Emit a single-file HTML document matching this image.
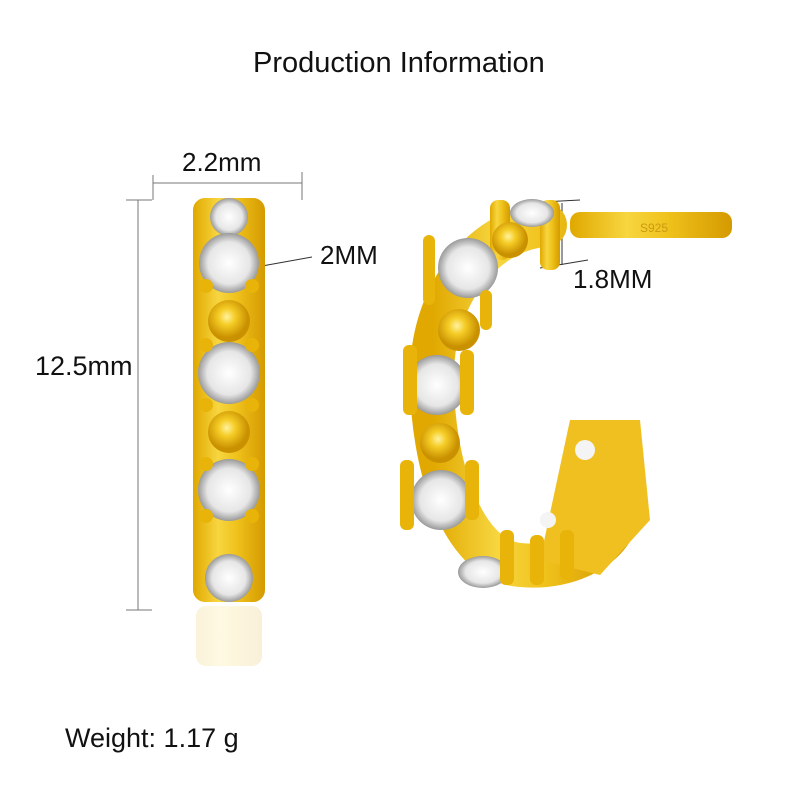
<!DOCTYPE html>
<html><head><style>
html,body{margin:0;padding:0;background:#fff;}
body{width:800px;height:800px;position:relative;overflow:hidden;font-family:"Liberation Sans",sans-serif;color:#111;}
.t{position:absolute;white-space:nowrap;}
</style></head><body>
<svg width="800" height="800" style="position:absolute;left:0;top:0">
<defs>
<linearGradient id="g" x1="0" x2="1" y1="0" y2="0">
<stop offset="0" stop-color="#e0a800"/><stop offset="0.35" stop-color="#f7d640"/><stop offset="0.6" stop-color="#f0c21c"/><stop offset="1" stop-color="#d49a00"/>
</linearGradient>
<radialGradient id="s"><stop offset="0" stop-color="#ffffff"/><stop offset="0.7" stop-color="#e6e6e6"/><stop offset="1" stop-color="#9a9a9a"/></radialGradient>
<radialGradient id="b" cx="0.45" cy="0.4"><stop offset="0" stop-color="#fff2a0"/><stop offset="0.4" stop-color="#f5cc25"/><stop offset="1" stop-color="#c99000"/></radialGradient>
</defs>
<g stroke="#777" stroke-width="1" fill="none">
<line x1="153" y1="183" x2="302" y2="183"/>
<line x1="153" y1="175" x2="153" y2="200"/>
<line x1="302" y1="172" x2="302" y2="200"/>
<line x1="138" y1="200" x2="138" y2="610"/>
<line x1="126" y1="200" x2="152" y2="200"/>
<line x1="126" y1="610" x2="152" y2="610"/>
<line x1="262" y1="266" x2="312" y2="257" stroke="#333"/>
<line x1="540" y1="268" x2="588" y2="260" stroke="#333"/>
<line x1="562" y1="203" x2="562" y2="265" stroke="#333"/>
<line x1="542" y1="202" x2="580" y2="200" stroke="#333"/>
</g>
<rect x="193" y="198" width="72" height="404" rx="12" fill="url(#g)"/>
<rect x="196" y="606" width="66" height="60" rx="10" fill="url(#g)" opacity="0.15"/>
<g fill="url(#s)">
<circle cx="229" cy="217" r="19"/><circle cx="229" cy="263" r="30"/>
<circle cx="229" cy="373" r="31"/><circle cx="229" cy="490" r="31"/>
<circle cx="229" cy="578" r="24"/>
</g>
<g fill="url(#b)">
<circle cx="229" cy="321" r="21"/><circle cx="229" cy="432" r="21"/>
</g>
<g fill="#e8b40a">
<circle cx="206" cy="345" r="7"/><circle cx="252" cy="345" r="7"/>
<circle cx="206" cy="405" r="7"/><circle cx="252" cy="405" r="7"/>
<circle cx="206" cy="464" r="7"/><circle cx="252" cy="464" r="7"/>
<circle cx="206" cy="516" r="7"/><circle cx="252" cy="516" r="7"/>
<circle cx="206" cy="286" r="7"/><circle cx="252" cy="286" r="7"/>
</g>
<rect x="570" y="212" width="162" height="26" rx="10" fill="url(#g)"/>
<text x="640" y="232" font-size="12" fill="#c99a10" font-family="Liberation Sans">S925</text>
<path d="M545 225 C480 230 430 300 432 380 C432 460 460 560 520 565 C570 570 620 545 620 500" stroke="url(#g)" stroke-width="44" fill="none" stroke-linecap="round"/>
<path d="M570 420 L640 420 L650 520 L600 575 L540 560 Z" fill="#f0c020"/>
<circle cx="585" cy="450" r="10" fill="#f4f4f4"/><circle cx="548" cy="520" r="8" fill="#f4f4f4"/>
<rect x="490" y="200" width="20" height="60" rx="8" fill="url(#g)"/>
<rect x="540" y="200" width="20" height="70" rx="8" fill="url(#g)"/>
<g fill="url(#s)">
<ellipse cx="532" cy="213" rx="22" ry="14"/>
<circle cx="468" cy="268" r="30"/>
<circle cx="437" cy="385" r="30"/>
<circle cx="441" cy="500" r="30"/>
<ellipse cx="483" cy="572" rx="25" ry="16"/>
</g>
<g fill="url(#b)">
<circle cx="459" cy="330" r="21"/><circle cx="440" cy="443" r="20"/><circle cx="510" cy="240" r="18"/>
</g>
<g fill="#e8b40a">
<rect x="423" y="235" width="12" height="70" rx="6"/><rect x="480" y="290" width="12" height="40" rx="6"/>
<rect x="403" y="345" width="14" height="70" rx="6"/><rect x="460" y="350" width="14" height="65" rx="6"/>
<rect x="400" y="460" width="14" height="70" rx="6"/><rect x="465" y="460" width="14" height="60" rx="6"/>
<rect x="500" y="530" width="14" height="55" rx="6"/><rect x="530" y="535" width="14" height="50" rx="6"/>
<rect x="560" y="530" width="14" height="50" rx="6"/>
</g>
</svg>
<div class="t" style="left:253px;top:47px;font-size:29px;">Production Information</div>
<div class="t" style="left:182px;top:147px;font-size:26px;">2.2mm</div>
<div class="t" style="left:320px;top:240px;font-size:26px;">2MM</div>
<div class="t" style="left:573px;top:264px;font-size:26px;">1.8MM</div>
<div class="t" style="left:35px;top:351px;font-size:27px;">12.5mm</div>
<div class="t" style="left:65px;top:723px;font-size:27px;">Weight: 1.17 g</div>
</body></html>
